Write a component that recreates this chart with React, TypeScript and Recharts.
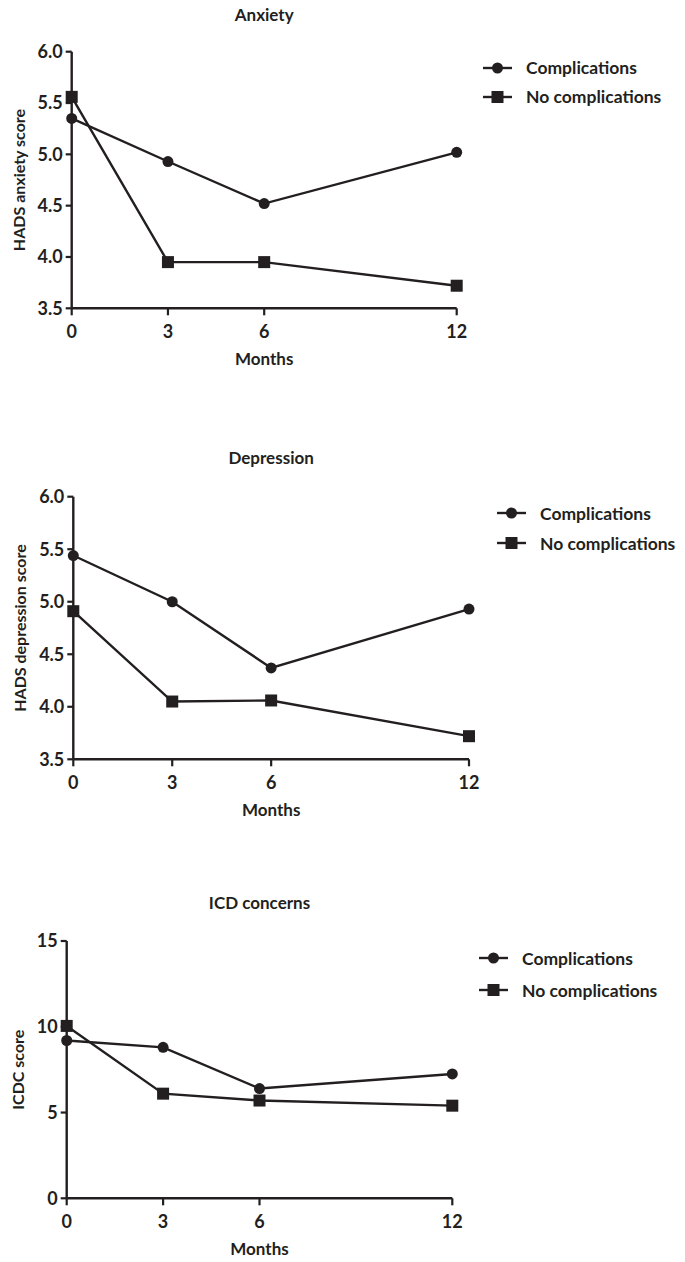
import React from 'react';
import { LineChart, Line, XAxis, YAxis, Legend } from 'recharts';

const FONT = 'Lato, "Noto Sans", sans-serif';
const INK = '#231f20';

// time points (months)
const months = [0, 3, 6, 12];

// HADS anxiety
const anxietyComp = [5.35, 4.93, 4.52, 5.02];
const anxietyNoComp = [5.56, 3.95, 3.95, 3.72];
const anxietyTicks = [3.5, 4.0, 4.5, 5.0, 5.5, 6.0];

// HADS depression
const depressionComp = [5.44, 5.0, 4.37, 4.93];
const depressionNoComp = [4.91, 4.05, 4.06, 3.72];
const depressionTicks = [3.5, 4.0, 4.5, 5.0, 5.5, 6.0];

// ICD concerns
const icdcComp = [9.2, 8.8, 6.4, 7.25];
const icdcNoComp = [10.05, 6.1, 5.7, 5.4];
const icdcTicks = [0, 5, 10, 15];

const seriesNames = ['Complications', 'No complications'];

const buildRows = (a: number[], b: number[]) =>
  months.map((m, i) => ({ month: m, comp: a[i], noComp: b[i] }));

const renderSquare = (p: any) => {
  if (p.cx == null || p.cy == null) return <g key={`sq-${p.index}`} />;
  return <rect key={`sq-${p.index}`} x={p.cx - 6} y={p.cy - 6} width={12} height={12} fill={INK} />;
};

const makeLegend = (rowH: number) => (props: any) => (
  <div style={{ fontFamily: FONT, fontWeight: 700, fontSize: 17.5, color: INK }}>
    {(props.payload || []).map((entry: any, i: number) => (
      <div key={i} style={{ display: 'flex', alignItems: 'center', height: rowH }}>
        <svg width={29} height={14} style={{ display: 'block' }}>
          <line x1={0} y1={7} x2={29} y2={7} stroke={INK} strokeWidth={2.4} />
          {entry.dataKey === 'comp' ? (
            <circle cx={14.5} cy={7} r={5.5} fill={INK} />
          ) : (
            <rect x={8.5} y={1} width={12} height={12} fill={INK} />
          )}
        </svg>
        <span style={{ marginLeft: 14, whiteSpace: 'nowrap' }}>{entry.value}</span>
      </div>
    ))}
  </div>
);

interface PanelProps {
  top: number;
  height: number;
  plot: { left: number; right: number; top: number; bottom: number };
  title: string;
  titleY: number;
  yLabel: string;
  yLabelX: number;
  ticks: number[];
  decimals: number;
  comp: number[];
  noComp: number[];
  legend: { left: number; top: number; rowH: number };
}

const Panel: React.FC<PanelProps> = (p) => {
  const rows = buildRows(p.comp, p.noComp);
  const xAxisH = 40;
  const margin = {
    top: p.plot.top - p.top,
    left: 0,
    right: 685 - p.plot.right,
    bottom: p.top + p.height - p.plot.bottom - xAxisH,
  };
  const tickStyle = { fontFamily: FONT, fontWeight: 700, fontSize: 18, fill: INK };
  const center = (p.plot.left + p.plot.right) / 2;
  return (
    <div style={{ position: 'absolute', left: 0, top: p.top, width: 685, height: p.height }}>
      <div
        style={{
          position: 'absolute',
          left: 0,
          width: center * 2,
          top: p.titleY - p.top - 10,
          lineHeight: '20px',
          textAlign: 'center',
          fontFamily: FONT,
          fontWeight: 700,
          fontSize: 17,
          color: INK,
        }}
      >
        {p.title}
      </div>
      <LineChart width={685} height={p.height} data={rows} margin={margin}>
        <XAxis
          dataKey="month"
          type="number"
          domain={[0, 12]}
          ticks={months}
          height={xAxisH}
          tickSize={7}
          tickMargin={10}
          tick={tickStyle}
          axisLine={{ stroke: INK, strokeWidth: 2.4 }}
          tickLine={{ stroke: INK, strokeWidth: 2.2 }}
          label={{
            value: 'Months',
            position: 'bottom',
            offset: 5,
            style: { fontFamily: FONT, fontWeight: 700, fontSize: 17, fill: INK },
          }}
        />
        <YAxis
          type="number"
          width={p.plot.left}
          domain={[p.ticks[0], p.ticks[p.ticks.length - 1]]}
          ticks={p.ticks}
          interval={0}
          tickSize={6}
          tickMargin={3}
          tick={tickStyle}
          tickFormatter={(v: number) => v.toFixed(p.decimals)}
          axisLine={{ stroke: INK, strokeWidth: 2.4 }}
          tickLine={{ stroke: INK, strokeWidth: 2.2 }}
          label={{
            value: p.yLabel,
            angle: -90,
            position: 'insideLeft',
            offset: p.yLabelX,
            style: { fontFamily: FONT, fontWeight: 700, fontSize: 16, fill: INK, textAnchor: 'middle' },
          }}
        />
        <Legend
          layout="vertical"
          align="center"
          verticalAlign="middle"
          wrapperStyle={{ left: p.legend.left, top: p.legend.top - p.top, width: 220 }}
          content={makeLegend(p.legend.rowH)}
        />
        <Line
          dataKey="comp"
          name={seriesNames[0]}
          type="linear"
          stroke={INK}
          strokeWidth={2.4}
          dot={{ r: 5.5, fill: INK, stroke: INK, strokeWidth: 0 }}
          activeDot={false}
          isAnimationActive={false}
        />
        <Line
          dataKey="noComp"
          name={seriesNames[1]}
          type="linear"
          stroke={INK}
          strokeWidth={2.4}
          dot={renderSquare}
          activeDot={false}
          isAnimationActive={false}
        />
      </LineChart>
    </div>
  );
};

export default function App() {
  return (
    <div style={{ position: 'absolute', left: 0, top: 0, width: 685, height: 1262, background: '#fff' }}>
      <Panel
        top={0}
        height={380}
        plot={{ left: 71.7, right: 456.7, top: 51.7, bottom: 308.3 }}
        title="Anxiety"
        titleY={15}
        yLabel="HADS anxiety score"
        yLabelX={19}
        ticks={anxietyTicks}
        decimals={1}
        comp={anxietyComp}
        noComp={anxietyNoComp}
        legend={{ left: 483, top: 53.6, rowH: 28.7 }}
      />
      <Panel
        top={430}
        height={400}
        plot={{ left: 73.3, right: 469, top: 496.7, bottom: 759.3 }}
        title="Depression"
        titleY={458.3}
        yLabel="HADS depression score"
        yLabelX={20}
        ticks={depressionTicks}
        decimals={1}
        comp={depressionComp}
        noComp={depressionNoComp}
        legend={{ left: 497, top: 498.3, rowH: 30 }}
      />
      <Panel
        top={870}
        height={392}
        plot={{ left: 66.7, right: 452.3, top: 941, bottom: 1198.3 }}
        title="ICD concerns"
        titleY={903.3}
        yLabel="ICDC score"
        yLabelX={18.3}
        ticks={icdcTicks}
        decimals={0}
        comp={icdcComp}
        noComp={icdcNoComp}
        legend={{ left: 479, top: 942.5, rowH: 31.7 }}
      />
    </div>
  );
}
